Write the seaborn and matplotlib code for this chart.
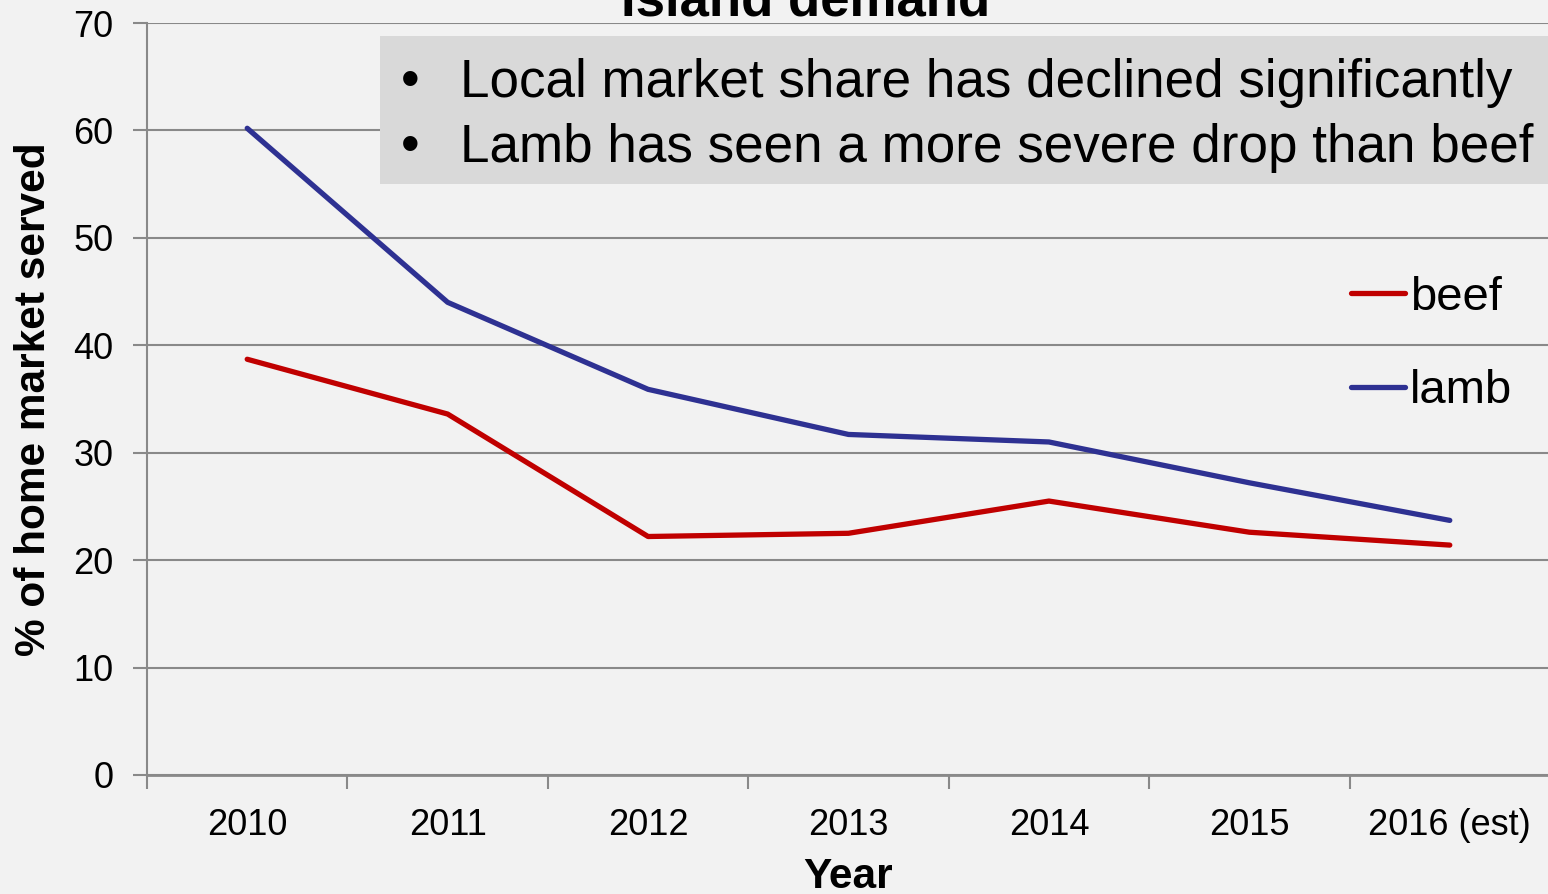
import matplotlib
matplotlib.use("Agg")
import matplotlib.pyplot as plt
import matplotlib.patches as mpatches
import seaborn as sns
import pandas as pd
import numpy as np

# Chart data
years = ["2010", "2011", "2012", "2013", "2014", "2015", "2016 (est)"]
beef = [38.7, 33.6, 22.2, 22.5, 25.5, 22.6, 21.4]
lamb = [60.2, 44.0, 35.9, 31.7, 31.0, 27.2, 23.7]
series_names = ["beef", "lamb"]
y_ticks = [0, 10, 20, 30, 40, 50, 60, 70]
title = "Island demand"
notes = ["Local market share has declined significantly",
         "Lamb has seen a more severe drop than beef"]

df = pd.DataFrame({
    "pos": list(range(len(years))) * 2,
    "share": beef + lamb,
    "meat": [series_names[0]] * len(years) + [series_names[1]] * len(years),
})

sns.set_theme(style="white")
plt.rcParams["font.family"] = ["Liberation Sans", "DejaVu Sans"]
plt.rcParams["text.color"] = "black"
plt.rcParams["axes.labelcolor"] = "black"
plt.rcParams["xtick.labelcolor"] = "black"
plt.rcParams["ytick.labelcolor"] = "black"

W, H = 1548, 894
bg = "#f2f2f2"
grid_c = "#898989"
line_w = 3.8
fig = plt.figure(figsize=(W / 100, H / 100), dpi=100, facecolor=bg)
ax = fig.add_axes([147 / W, 1 - 775 / H, (1550 - 147) / W, (775 - 23) / H])
ax.set_facecolor(bg)

sns.lineplot(data=df, x="pos", y="share", hue="meat",
             palette={"beef": "#c00000", "lamb": "#2e3192"},
             ax=ax, legend=False, zorder=3)
for l in ax.lines:
    l.set_linewidth(line_w)
    l.set_solid_capstyle("round")

ax.set_xlim(-0.5, len(years) - 0.5)
ax.set_ylim(0, 70)
ax.set_yticks(y_ticks)
ax.set_yticklabels([str(t) for t in y_ticks], fontsize=26)
ax.set_xticks(range(len(years)))
ax.set_xticklabels(years, fontsize=26)
ax.set_xticks(np.arange(-0.5, len(years), 1.0), minor=True)
ax.tick_params(axis="x", which="major", length=0, pad=24)
ax.tick_params(axis="x", which="minor", length=10, width=1.5, color=grid_c,
               direction="out", bottom=True)
ax.tick_params(axis="y", length=10, width=1.5, color=grid_c, direction="out",
               left=True, pad=14)
ax.yaxis.grid(True, color=grid_c, linewidth=1.5)
ax.set_axisbelow(True)
for s in ["top", "right"]:
    ax.spines[s].set_visible(False)
ax.spines["left"].set_color(grid_c)
ax.spines["left"].set_linewidth(1.5)
ax.spines["bottom"].set_color(grid_c)
ax.spines["bottom"].set_linewidth(2)

ax.set_xlabel("Year", fontsize=30.5, fontweight="bold", labelpad=10)
ax.set_ylabel("% of home market served", fontsize=30.5, fontweight="bold", labelpad=14)

# legend
handles = [plt.Line2D([], [], color=c, linewidth=line_w, solid_capstyle="round")
           for c in ["#c00000", "#2e3192"]]
ax.legend(handles, series_names, loc="upper left",
          bbox_to_anchor=(1327 / W, 1 - 252 / H), bbox_transform=fig.transFigure,
          frameon=False, fontsize=34, handlelength=1.15, handletextpad=0.1,
          labelspacing=1.05, borderpad=0)

# title
fig.text(806 / W, 1 - 15 / H, title, ha="center", va="baseline",
         fontsize=38, fontweight="bold")

# notes box
fig.add_artist(mpatches.Rectangle((380 / W, 1 - 184 / H), (W - 380) / W, 148 / H,
                                  transform=fig.transFigure, facecolor="#d9d9d9",
                                  edgecolor="none"))
for i, line in enumerate(notes):
    yb = 1 - (97 + i * 65) / H
    fig.text(410 / W, yb, "\u2022", ha="center", va="baseline", fontsize=38.2)
    fig.text(460 / W, yb, line, ha="left", va="baseline", fontsize=38.2)

fig.savefig("out.png", dpi=100, facecolor=bg)
